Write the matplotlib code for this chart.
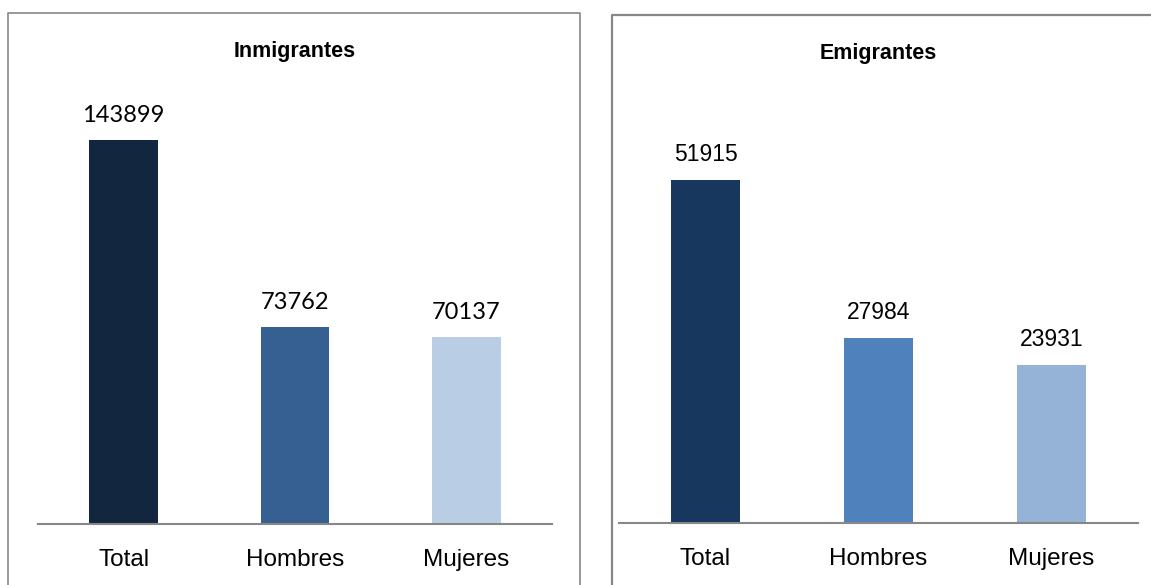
import matplotlib
matplotlib.use("Agg")
import matplotlib.pyplot as plt
from matplotlib.lines import Line2D

categories = ["Total", "Hombres", "Mujeres"]
inmigrantes = [143899, 73762, 70137]
emigrantes = [51915, 27984, 23931]

colors_in = ["#12263f", "#376092", "#b9cde5"]
colors_em = ["#17375e", "#4f81bd", "#95b3d7"]

W, H = 1151, 585
fig = plt.figure(figsize=(W / 100, H / 100), dpi=100)
fig.patch.set_facecolor("white")

def px(x0, y_top, x1, y_bot):
    # pixel box (from top-left) -> figure fraction rect
    return [x0 / W, 1 - y_bot / H, (x1 - x0) / W, (y_bot - y_top) / H]

def border(pts, lw):
    xs = [p[0] / W for p in pts]
    ys = [1 - p[1] / H for p in pts]
    fig.add_artist(Line2D(xs, ys, color="#878787", lw=lw, transform=fig.transFigure))

# panel frames (cropped at the bottom / right in the source)
border([(8, 600), (8, 13), (580, 13), (580, 600)], 1.2)
border([(612, 600), (612, 15), (1160, 15)], 1.6)

num_font = ["Lato", "DejaVu Sans"]
cat_font = ["Liberation Sans Narrow", "Liberation Sans", "DejaVu Sans"]

def panel(rect, vals, cols, ymax, title, title_y, vfont, vsize):
    ax = fig.add_axes(rect)
    x = range(len(vals))
    bars = ax.bar(x, vals, width=0.4, color=cols)
    ax.set_xlim(-0.5, len(vals) - 0.5)
    ax.set_ylim(0, ymax)
    for s in ["top", "right", "left"]:
        ax.spines[s].set_visible(False)
    ax.spines["bottom"].set_color("#878787")
    ax.spines["bottom"].set_linewidth(1.5)
    ax.set_yticks([])
    ax.set_xticks(list(x))
    ax.set_xticklabels(categories, family=cat_font, fontsize=17.5)
    ax.tick_params(axis="x", length=0, pad=18)
    for b, v in zip(bars, vals):
        ax.annotate(str(v), (b.get_x() + b.get_width() / 2, v), xytext=(0, 10),
                    textcoords="offset points", ha="center", va="bottom",
                    family=vfont, fontsize=vsize, color="black")
    fig.text(rect[0] + rect[2] / 2, 1 - title_y / H, title, ha="center", va="center",
             family=["Liberation Sans", "DejaVu Sans"], fontweight="bold", fontsize=15.5)
    return ax

panel(px(38, 97, 552, 524), inmigrantes, colors_in, 160000, "Inmigrantes", 52, num_font, 17)
panel(px(619, 127, 1138, 523), emigrantes, colors_em, 60000, "Emigrantes", 54, cat_font, 16.5)

fig.savefig("out.png", dpi=100, facecolor="white")
